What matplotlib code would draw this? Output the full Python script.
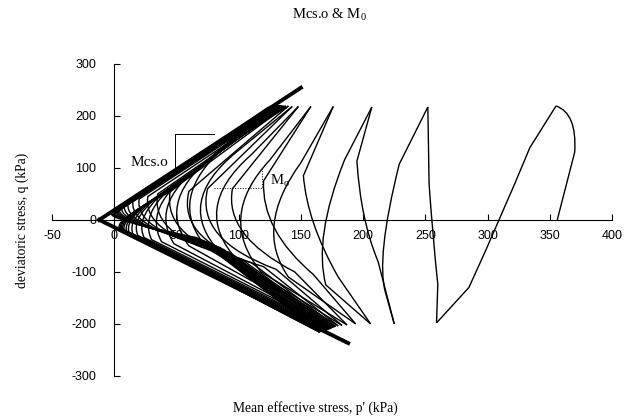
import matplotlib.pyplot as plt
from matplotlib.path import Path
from matplotlib.patches import PathPatch

plt.rcParams['axes.unicode_minus'] = False

# first loading from the isotropic state
load_p = [356, 370, 372, 355]
load_q = [0, 130, 205, 219]

# compression peaks and extension troughs of each cycle
peak_p = [355, 252, 207, 176, 158, 148, 143, 140, 138, 137, 136, 135, 134, 133, 132,
          131, 130, 129, 128, 127, 126, 125, 124]
peak_q = [219, 217, 217, 218, 218, 218, 218, 219, 219, 219, 219, 220, 220, 220, 220,
          220, 220, 219, 219, 218, 218, 217, 217]
trough_p = [259, 225, 206, 194, 187, 183, 180, 178, 177, 176, 175, 174, 173, 172, 171,
            170, 169, 168, 167, 166, 165, 165]
trough_q = [-198, -200, -200, -200, -202, -203, -204, -205, -206, -207, -208, -209, -210,
            -211, -212, -213, -214, -214, -215, -215, -216, -216]

# peak -> trough: knee (a), turning point (c), exit (b)
da_p = [334, 229, 185, 150, 125, 110, 98, 90, 84, 78, 74, 70, 66, 63, 60, 57, 55, 53, 51, 49, 47, 45]
da_q = [139, 107, 115, 110, 115, 125, 130, 143, 131, 119, 112, 104, 96, 90, 84, 78, 74, 70, 66, 62, 58, 54]
dc_p = [310, 210, 160, 112, 82, 60, 48, 40, 32, 26, 21, 17, 13, 10, 8, 6, 5, 4, 3, 2, 2, 1]
dc_q = [0, -75, -35, -15, 5, 20, 32, 40, 40, 36, 32, 27, 22, 17, 13, 10, 8, 6, 5, 4, 3, 2]
db_p = [285, 218, 170, 140, 118, 100, 85, 75, 60, 48, 38, 30, 24, 19, 15, 12, 10, 8, 7, 6, 5, 4]
db_q = [-130, -140, -125, -110, -100, -80, -62, -55, -50, -46, -42, -38, -34, -30, -27, -24,
        -22, -20, -18, -17, -16, -15]

# trough -> next peak: knee (a), turning point (c), exit (b)
ua_p = [260, 212, 180, 160, 145, 130, 120, 110, 102, 96, 92, 88, 85, 82, 80, 78, 76, 74, 72, 70, 68, 66]
ua_q = [-124, -80, -110, -105, -100, -95, -90, -82, -75, -68, -62, -57, -53, -50, -48, -46,
        -44, -42, -40, -38, -36, -34]
uc_p = [256, 198, 155, 118, 88, 65, 50, 38, 28, 22, 16, 12, 9, 7, 5, 4, 3, 2, 1, 0, 0, -1]
uc_q = [-34, 0, -5, -20, -30, -38, -42, -40, -36, -30, -25, -20, -16, -12, -9, -7, -6, -5, -4, -3, -2, -1]
ub_p = [253, 195, 152, 120, 95, 75, 60, 45, 35, 27, 20, 15, 11, 8, 6, 4, 3, 2, 1, 0, -1, -2]
ub_q = [69, 113, 85, 75, 60, 60, 55, 55, 50, 45, 40, 35, 30, 26, 22, 19, 17, 15, 13, 12, 11, 10]

# critical state lines (Mcs.o) in compression and extension
csl_p = [-12, 150]
csl_q = [0, 254]
cse_p = [-12, 188]
cse_q = [0, -237]

fig = plt.figure(figsize=(6.29, 4.2), dpi=100)
ax = fig.add_axes([0.0827, 0.105, 0.8903, 0.743])

lw = 1.0
codes = [Path.MOVETO, Path.LINETO, Path.CURVE3, Path.CURVE3, Path.LINETO]


def stress_path(pts):
    ax.add_patch(PathPatch(Path(pts, codes), fill=False, edgecolor='black', lw=lw))


ax.add_patch(PathPatch(Path(list(zip(load_p, load_q)),
                            [Path.MOVETO, Path.LINETO, Path.CURVE3, Path.CURVE3]),
                       fill=False, edgecolor='black', lw=lw))
for k in range(len(trough_p)):
    stress_path([(peak_p[k], peak_q[k]), (da_p[k], da_q[k]), (dc_p[k], dc_q[k]),
                 (db_p[k], db_q[k]), (trough_p[k], trough_q[k])])
    stress_path([(trough_p[k], trough_q[k]), (ua_p[k], ua_q[k]), (uc_p[k], uc_q[k]),
                 (ub_p[k], ub_q[k]), (peak_p[k + 1], peak_q[k + 1])])

ax.plot(csl_p, csl_q, color='black', lw=2.8)
ax.plot(cse_p, cse_q, color='black', lw=2.8)

# slope markers
ax.plot([80, 49, 49], [165, 165, 100], color='black', lw=0.7)
ax.text(28, 110, "Mcs.o", ha='center', va='center', fontsize=11, family='Liberation Serif')
ax.plot([80, 119, 119], [62, 62, 100], color='black', lw=0.7, ls=':')
ax.text(125, 75, r"M$_\mathregular{o}$", ha='left', va='center', fontsize=10.5,
        family='Liberation Serif')

ax.set_xlim(-50, 400)
ax.set_ylim(-300, 300)
ax.spines['left'].set_position(('data', 0))
ax.spines['bottom'].set_position(('data', 0))
ax.spines['top'].set_visible(False)
ax.spines['right'].set_visible(False)
ax.set_xticks(range(-50, 401, 50))
ax.set_yticks(range(-300, 301, 100))
ax.tick_params(direction='in', length=4, width=0.8, labelsize=9)
ax.tick_params(axis='y', pad=13)
ax.tick_params(axis='x', pad=7)
for t in ax.get_xticklabels() + ax.get_yticklabels():
    t.set_family('Liberation Sans')

fig.text(0.523, 1 - 15 / 420, r"Mcs.o & M$_\mathregular{0}$", ha='center', va='center',
         fontsize=10.5, family='Liberation Serif')
fig.text(0.502, 1 - 408 / 420, "Mean effective stress, p' (kPa)", ha='center', va='center',
         fontsize=9.8, family='Liberation Serif')
fig.text(0.035, 1 - 220 / 420, "deviatoric stress, q (kPa)", ha='center', va='center',
         rotation=90, fontsize=9.8, family='Liberation Serif')

fig.savefig("out.png", dpi=100)
